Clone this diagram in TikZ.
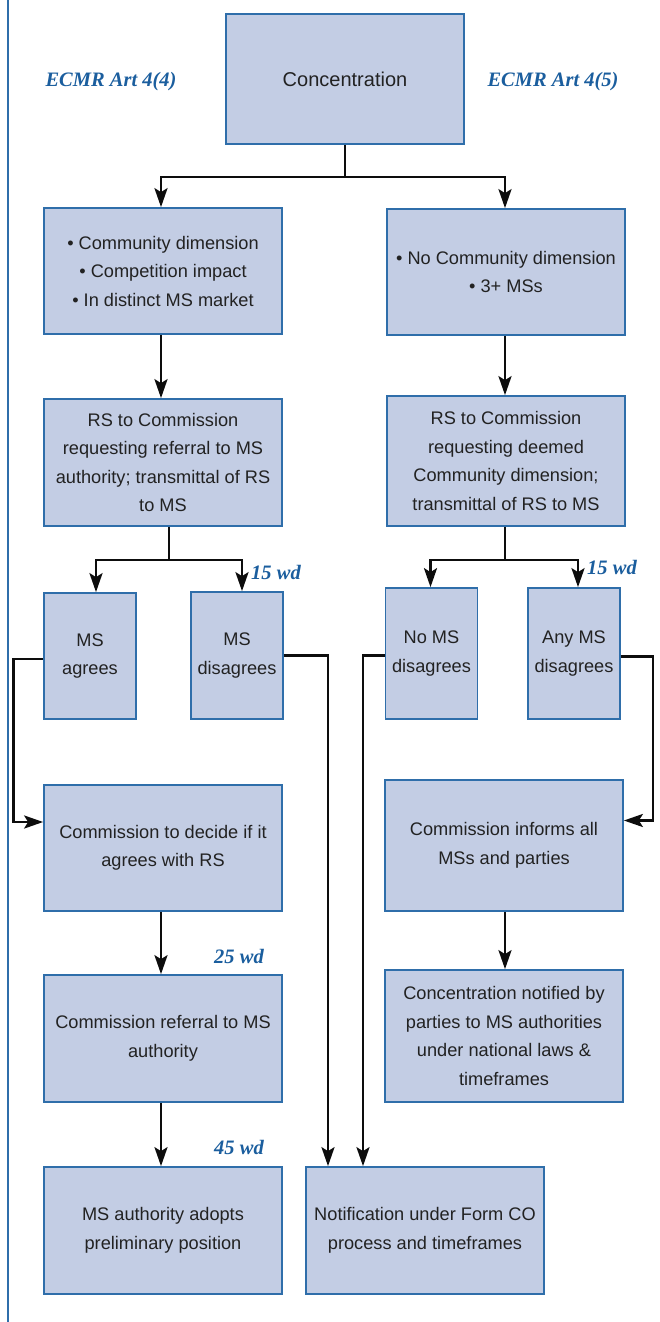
\documentclass[tikz,border=0pt]{standalone}
\usepackage{fontspec}
\setmainfont{Liberation Sans}
\newfontfamily\labfont{Liberation Serif}
\usetikzlibrary{arrows.meta,calc}
\definecolor{boxfill}{HTML}{C3CDE4}
\definecolor{boxline}{HTML}{2F6EAA}
\definecolor{labblue}{HTML}{1B5E9E}
\definecolor{txt}{HTML}{222222}
\begin{document}
\begin{tikzpicture}[x=1pt,y=-1pt,
  box/.style={draw=boxline,line width=1.7pt,fill=boxfill,text=txt,align=center,
    inner sep=0pt,font=\fontsize{18.2}{28.5}\selectfont},
  wide/.style={box,minimum width=238pt},
  narrow/.style={box,minimum width=92pt},
  lab/.style={text=labblue,font=\labfont\bfseries\itshape\fontsize{20.5}{24}\selectfont},
  conn/.style={draw=black!95,line width=2.7pt},
  arr/.style={conn,-{Stealth[length=19pt,width=13pt,inset=4pt]}}]
\useasboundingbox (0,0) rectangle (659,1322);
\draw[draw=boxline,line width=2.5pt] (8,0) -- (8,1322);

\node[wide,minimum height=130pt,font=\fontsize{20}{24}\selectfont] (conc) at (345,79) {Concentration};
\node[lab] (l44) at (111,82) {ECMR Art 4(4)};
\node[lab] (l45) at (553,82) {ECMR Art 4(5)};

\node[wide,minimum height=126pt] (a1) at (163,271) {• Community dimension\\• Competition impact\\• In distinct MS market};
\node[wide,minimum height=126pt] (b1) at (506,272) {• No Community dimension\\• 3+ MSs};

\node[wide,minimum height=127pt] (a2) at (163,462.5) {RS to Commission\\requesting referral to MS\\authority; transmittal of RS\\to MS};
\node[wide,minimum height=130pt] (b2) at (506,461) {RS to Commission\\requesting deemed\\Community dimension;\\transmittal of RS to MS};

\node[narrow,minimum height=126pt] (a3) at (90,656) {MS\\agrees};
\node[narrow,minimum height=127pt] (a4) at (237,655.5) {MS\\disagrees};
\node[narrow,minimum height=131pt] (b3) at (431.5,653.5) {No MS\\disagrees};
\node[narrow,minimum height=131pt] (b4) at (574,653.5) {Any MS\\disagrees};

\node[wide,minimum height=126pt] (a5) at (163,848) {Commission to decide if it\\agrees with RS};
\node[wide,minimum height=131pt] (b5) at (504,845.5) {Commission informs all\\MSs and parties};

\node[wide,minimum height=127pt] (a6) at (163,1038.5) {Commission referral to MS\\authority};
\node[wide,minimum height=132pt] (b6) at (504,1036) {Concentration notified by\\parties to MS authorities\\under national laws \&\\timeframes};

\node[wide,minimum height=127pt] (a7) at (163,1230.5) {MS authority adopts\\preliminary position};
\node[wide,minimum height=127pt] (n) at (425,1230.5) {Notification under Form CO\\process and timeframes};

\node[lab] (w15a) at (276,572) {15 wd};
\node[lab] (w15b) at (612,567) {15 wd};
\node[lab] (w25) at (239,956) {25 wd};
\node[lab] (w45) at (239,1147) {45 wd};

% connectors
\coordinate (j0) at (345,177);
\draw[conn] (conc.south) -- (j0);
\draw[arr] (j0) -| ([xshift=-2]a1.north);
\draw[arr] (j0) -| ([xshift=-1]b1.north);
\draw[arr] ([xshift=-2]a1.south) -- ([xshift=-2]a2.north);
\draw[arr] ([xshift=-1]b1.south) -- ([xshift=-1]b2.north);

\coordinate (j1) at (169,560);
\draw[conn] (a2.south -| j1) -- (j1);
\draw[arr] (j1) -| ([xshift=6]a3.north);
\draw[arr] (j1) -| ([xshift=5]a4.north);

\coordinate (j2) at (505,560);
\draw[conn] (b2.south -| j2) -- (j2);
\draw[arr] (j2) -| ([xshift=-1]b3.north);
\draw[arr] (j2) -| ([xshift=4]b4.north);

\draw[arr] ([yshift=-3]a3.west) -- ++(-30,0) |- ([yshift=26]a5.west);
\draw[arr] (a4.east) -| ([xshift=-97]n.north);
\draw[arr] ([yshift=-2]b3.west) -| ([xshift=-62]n.north);
\draw[arr] ([yshift=-3]b4.east) -- ++(32,0) |- ([yshift=25]b5.east);

\draw[arr] ([xshift=-2]a5.south) -- ([xshift=-2]a6.north);
\draw[arr] ([xshift=-2]a6.south) -- ([xshift=-2]a7.north);
\draw[arr] ([xshift=1]b5.south) -- ([xshift=1]b6.north);
\end{tikzpicture}
\end{document}
